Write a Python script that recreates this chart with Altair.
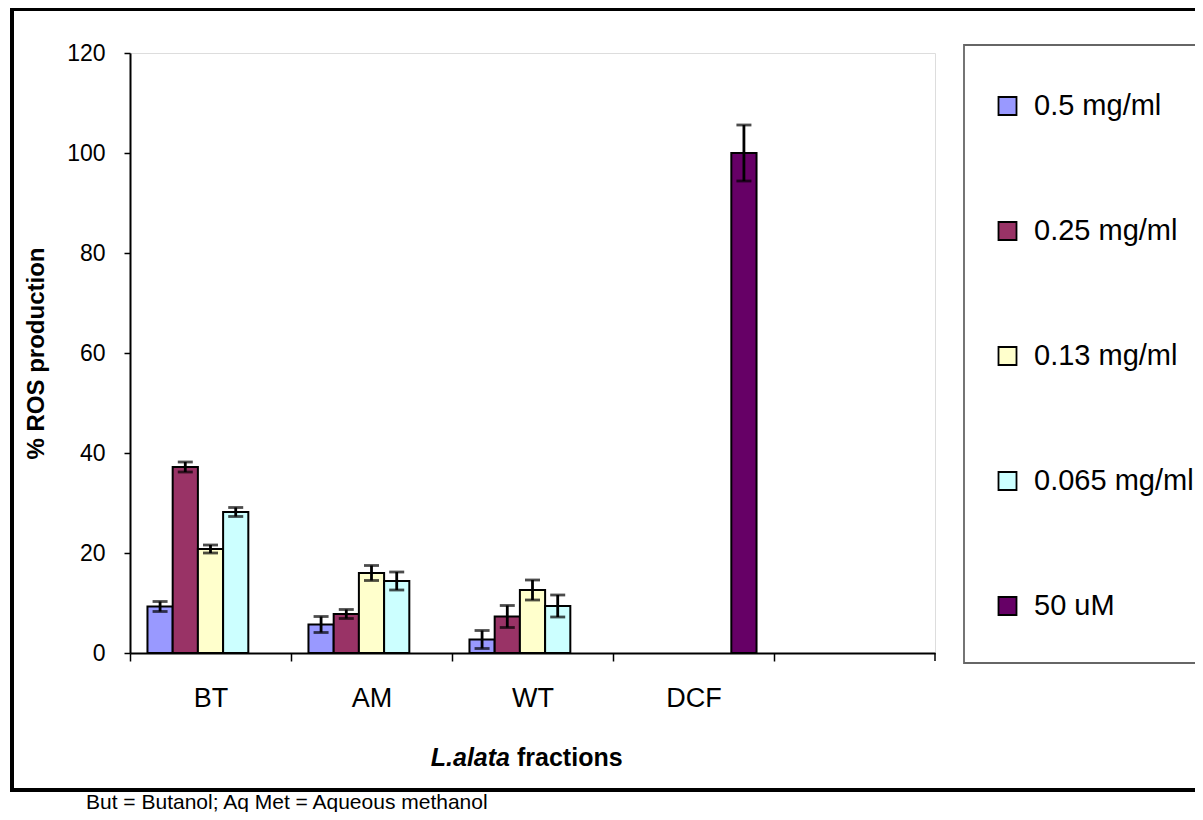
import altair as alt
import pandas as pd

categories = ["BT", "AM", "WT", "DCF"]
slot_domain = ["BT", "AM", "WT", "DCF", " "]
series = ["0.5 mg/ml", "0.25 mg/ml", "0.13 mg/ml", "0.065 mg/ml", "50 uM"]
colors = ["#9999FF", "#993366", "#FFFFCC", "#CCFFFF", "#660066"]

bt_vals = [9.3, 37.2, 20.8, 28.2]
bt_err = [1.0, 1.0, 0.8, 0.9]
am_vals = [5.7, 7.8, 16.0, 14.4]
am_err = [1.6, 0.9, 1.5, 1.8]
wt_vals = [2.7, 7.3, 12.6, 9.4]
wt_err = [1.8, 2.2, 2.0, 2.2]
dcf_vals = [100.0]
dcf_err = [5.6]

rows = []
for cat, vals, errs, sers in [
    ("BT", bt_vals, bt_err, series[:4]),
    ("AM", am_vals, am_err, series[:4]),
    ("WT", wt_vals, wt_err, series[:4]),
    ("DCF", dcf_vals, dcf_err, series[4:]),
]:
    for s, v, e in zip(sers, vals, errs):
        rows.append({"cat": cat, "series": s, "value": v, "lo": v - e, "hi": v + e})
df = pd.DataFrame(rows)

FONT = "Liberation Sans"
step = 805 / 5

x_enc = alt.X(
    "cat:N",
    scale=alt.Scale(domain=slot_domain, paddingInner=0.217, paddingOuter=0.1085),
    axis=alt.Axis(
        title=None, labelAngle=0, labelFont=FONT, labelFontSize=27, labelColor="#000000",
        labelPadding=24, tickSize=8, tickColor="#000000", tickWidth=1.5,
        domainColor="#000000", domainWidth=2, tickOffset=-step / 2, labelOffset=step / 2,
    ),
)
xoff = alt.XOffset("series:N", scale=alt.Scale(domain=series, paddingInner=0, paddingOuter=0))

base = alt.Chart(df)

bars = base.mark_bar(stroke="#000000", strokeWidth=2).encode(
    x=x_enc,
    xOffset=xoff,
    y=alt.Y(
        "value:Q",
        scale=alt.Scale(domain=[0, 120], nice=False),
        axis=alt.Axis(
            values=[0, 20, 40, 60, 80, 100, 120], title="% ROS production", titleFont=FONT,
            titleFontSize=24, titleFontWeight="bold", titleColor="#000000", titlePadding=18,
            labelFont=FONT, labelFontSize=23, labelColor="#000000", labelPadding=19,
            tickSize=6, tickColor="#000000", tickWidth=1.5, domainColor="#000000",
            domainWidth=2, grid=False,
        ),
    ),
    color=alt.Color(
        "series:N",
        scale=alt.Scale(domain=series, range=colors),
        legend=alt.Legend(
            title=None, orient="none", legendX=863, legendY=38.5, padding=0,
            rowPadding=95, symbolType="square", symbolSize=324,
            symbolStrokeColor="#000000", symbolStrokeWidth=1.8,
            labelFont=FONT, labelFontSize=29, labelColor="#000000", labelOffset=12,
            labelLimit=400,
        ),
    ),
)

err_line = base.mark_rule(color="#000000", strokeWidth=2.8).encode(
    x=alt.X("cat:N", scale=alt.Scale(domain=slot_domain)), xOffset=xoff, y="lo:Q", y2="hi:Q"
)
cap_lo = base.mark_tick(color="#000000", thickness=2.8, size=15).encode(
    x=alt.X("cat:N"), xOffset=xoff, y="lo:Q"
)
cap_hi = base.mark_tick(color="#000000", thickness=2.8, size=15).encode(
    x=alt.X("cat:N"), xOffset=xoff, y="hi:Q"
)

one = pd.DataFrame({"k": [0]})
outer = alt.Chart(one).mark_rect(fillOpacity=0, stroke="#000000", strokeWidth=4).encode(
    x=alt.value(-118), x2=alt.value(1095), y=alt.value(-44), y2=alt.value(737)
)
legend_box = alt.Chart(one).mark_rect(fillOpacity=0, stroke="#666666", strokeWidth=1.8).encode(
    x=alt.value(834), x2=alt.value(1095), y=alt.value(-8), y2=alt.value(610)
)
end_tick = alt.Chart(one).mark_rule(color="#000000", strokeWidth=1.5).encode(
    x=alt.value(805), y=alt.value(600), y2=alt.value(608)
)
xt1 = alt.Chart(one).mark_text(
    font=FONT, fontSize=25, fontWeight="bold", fontStyle="italic", align="right",
    baseline="middle", color="#000000"
).encode(x=alt.value(380), y=alt.value(705), text=alt.value("L.alata"))
xt2 = alt.Chart(one).mark_text(
    font=FONT, fontSize=25, fontWeight="bold", align="left", baseline="middle", color="#000000"
).encode(x=alt.value(387), y=alt.value(705), text=alt.value("fractions"))
caption = alt.Chart(one).mark_text(
    font=FONT, fontSize=21, align="left", baseline="middle", color="#000000"
).encode(x=alt.value(-44), y=alt.value(750), text=alt.value("But = Butanol; Aq Met = Aqueous methanol"))

chart = alt.layer(
    outer, legend_box, bars, err_line, cap_lo, cap_hi, end_tick, xt1, xt2, caption
).properties(
    width=805, height=600,
    padding={"left": 122, "top": 45, "right": 260, "bottom": 159},
    autosize=alt.AutoSizeParams(type="none"),
).configure_view(stroke="#808080", strokeWidth=1.5).configure(background="white")

chart.save("out.html", embed_options={"renderer": "svg", "actions": False})
